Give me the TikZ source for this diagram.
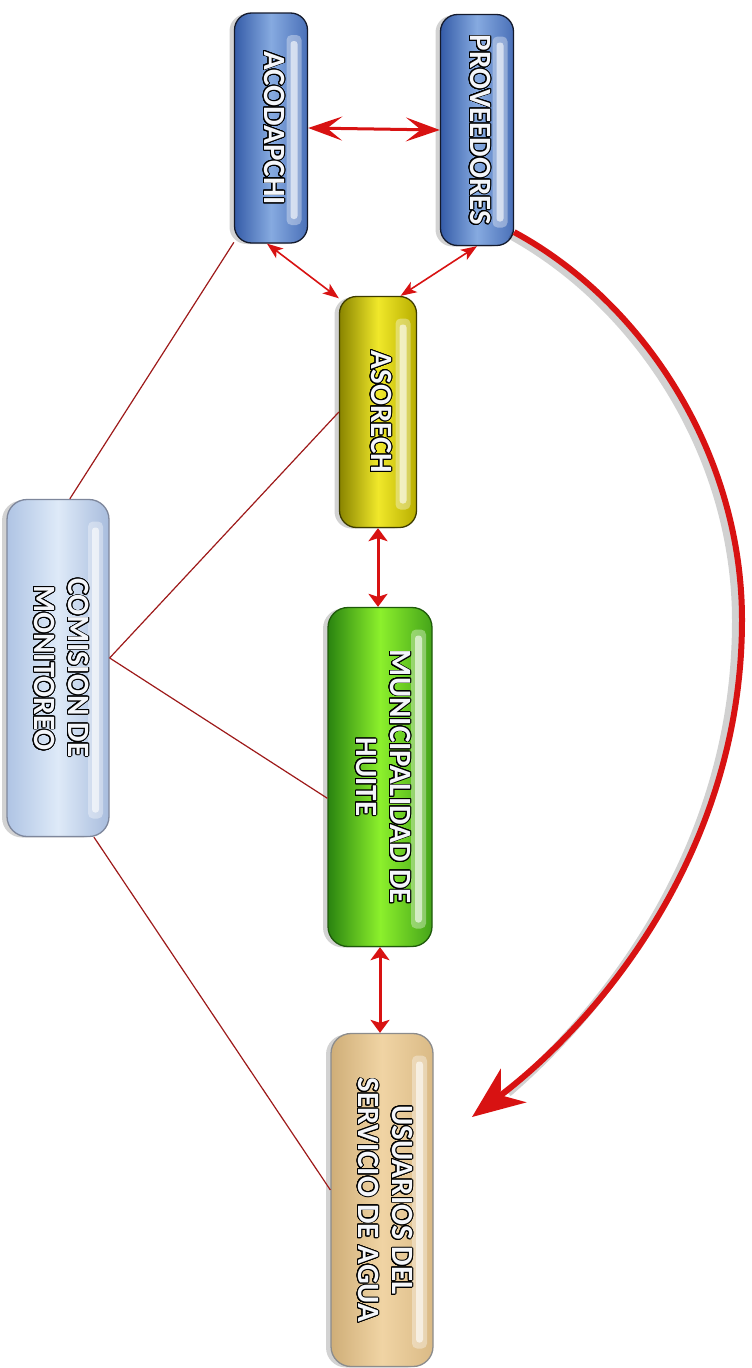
\documentclass[tikz,border=0pt]{standalone}
\usepackage{fontspec}
\setmainfont{Carlito}
\usepackage{graphicx}
\usepackage{contour}
\usetikzlibrary{arrows.meta,shadows,calc}
\contourlength{0.9pt}
\contournumber{24}
\newcommand\olt[1]{\contour{black}{#1}}
\newcommand\rtxt[1]{\rotatebox{-90}{\fontsize{31}{34}\selectfont\bfseries\color{txtfill}\begin{tabular}{@{}c@{}}#1\end{tabular}}}
\definecolor{redA}{HTML}{D81212}
\definecolor{redL}{HTML}{9E1A1A}
\definecolor{txtfill}{HTML}{F4F6FA}
\definecolor{bluL}{HTML}{355CA8}
\definecolor{bluM}{HTML}{86AAE0}
\definecolor{bluR}{HTML}{4A70B8}
\definecolor{bluD}{HTML}{141A2C}
\definecolor{yelL}{HTML}{8A8500}
\definecolor{yelM}{HTML}{F0E82A}
\definecolor{yelR}{HTML}{B8AE00}
\definecolor{yelD}{HTML}{3E3C00}
\definecolor{grnL}{HTML}{2A8410}
\definecolor{grnM}{HTML}{8CF02C}
\definecolor{grnR}{HTML}{45A41A}
\definecolor{grnD}{HTML}{1E5A0A}
\definecolor{tanL}{HTML}{CFAE78}
\definecolor{tanM}{HTML}{F0D4A4}
\definecolor{tanR}{HTML}{DABA86}
\definecolor{tanD}{HTML}{8C8C8C}
\definecolor{lbL}{HTML}{AFC4E4}
\definecolor{lbM}{HTML}{DEEAF8}
\definecolor{lbR}{HTML}{A8BCDD}
\definecolor{lbD}{HTML}{7E879C}
\begin{document}
\begin{tikzpicture}[x=1pt,y=1pt,
  box/.style={line width=1.3pt, rounded corners=17pt, inner sep=0pt,
    drop shadow={shadow xshift=-5pt,shadow yshift=-1pt,opacity=0.35},
    path picture={
      \fill[white,opacity=0.35,rounded corners=5pt] ($(path picture bounding box.north east)+(-21,-22)$) rectangle ($(path picture bounding box.south east)+(-6,18)$);
      \fill[white,opacity=0.6,rounded corners=3pt] ($(path picture bounding box.north east)+(-17,-28)$) rectangle ($(path picture bounding box.south east)+(-10,24)$);}},
  bluebox/.style={box, draw=bluD, left color=bluL, right color=bluR, middle color=bluM},
  yellowbox/.style={box, draw=yelD, left color=yelL, right color=yelR, middle color=yelM},
  greenbox/.style={box, draw=grnD, left color=grnL, right color=grnR, middle color=grnM},
  tanbox/.style={box, rounded corners=20pt, draw=tanD, left color=tanL, right color=tanR, middle color=tanM},
  lbluebox/.style={box, rounded corners=20pt, draw=lbD, left color=lbL, right color=lbR, middle color=lbM},
  bigdbl/.style={draw=redA, line width=3pt, {Stealth[length=34pt,width=24pt,inset=15pt]}-{Stealth[length=34pt,width=24pt,inset=15pt]}},
  middbl/.style={draw=redA, line width=3pt, {Stealth[length=13pt,width=19pt,inset=3pt]}-{Stealth[length=13pt,width=19pt,inset=3pt]}},
  thindbl/.style={draw=redA, line width=1.6pt, {Stealth[length=16pt,width=12pt,inset=4pt]}-{Stealth[length=16pt,width=12pt,inset=4pt]}},
  link/.style={draw=redL, line width=1.2pt},
  bigarrow/.style={draw=redA, line width=6pt, -{Stealth[length=52pt,width=42pt,inset=16pt]}},
  bigshadow/.style={draw=black, opacity=0.18, line width=8pt}
]
\useasboundingbox (0,0) rectangle (752,-1368);
\fill[white] (0,0) rectangle (752,-1368);

\node[bluebox, minimum width=73pt, minimum height=230pt] (acod) at (271,-128) {\rtxt{\olt{ACODAPCHI}}};
\node[bluebox, minimum width=73pt, minimum height=231pt] (prov) at (477,-130) {\rtxt{\olt{PROVEEDORES}}};
\node[yellowbox, minimum width=77pt, minimum height=231pt] (asor) at (378,-412) {\rtxt{\olt{ASORECH}}};
\node[greenbox, rounded corners=20pt, minimum width=104pt, minimum height=339pt] (muni) at (380,-777) {\rtxt{\olt{MUNICIPALIDAD DE}\\\olt{HUITE}}};
\node[tanbox, minimum width=102pt, minimum height=333pt] (usu) at (382,-1200) {\rtxt{\olt{USUARIOS DEL}\\\olt{SERVICIO DE AGUA}}};
\node[lbluebox, minimum width=102pt, minimum height=337pt] (com) at (58,-668) {\rtxt{\olt{COMISION DE}\\\olt{MONITOREO}}};

\coordinate (tipc) at (472,-1117);

% monitoring links
\draw[link] (com.86) -- (acod.252);
\draw[link] (com.11) -- (asor.west);
\draw[link] (com.11) -- (muni.202);
\draw[link] (com.-78) -- (usu.169);

% double arrows
\draw[bigdbl] (acod.east) -- (prov.west);
\draw[thindbl] (acod.-92) -- (asor.109);
\draw[thindbl] (prov.-90) -- (asor.79);
\draw[middbl] (asor.south) -- (asor.south |- muni.north);
\draw[middbl] (muni.south) -- (muni.south |- usu.north);

% big curved arrow (shadow, then arrow)
\draw[bigshadow] ($(prov.-70)+(-4,-3)$) .. controls (634,-303) and (736,-451) .. (736,-621) .. controls (736,-850) and (602,-1012) .. ($(tipc)+(36,24)$);
\draw[bigarrow] (prov.-70) .. controls (640,-300) and (742,-450) .. (742,-620) .. controls (742,-850) and (600,-1020) .. (tipc);
\end{tikzpicture}
\end{document}
